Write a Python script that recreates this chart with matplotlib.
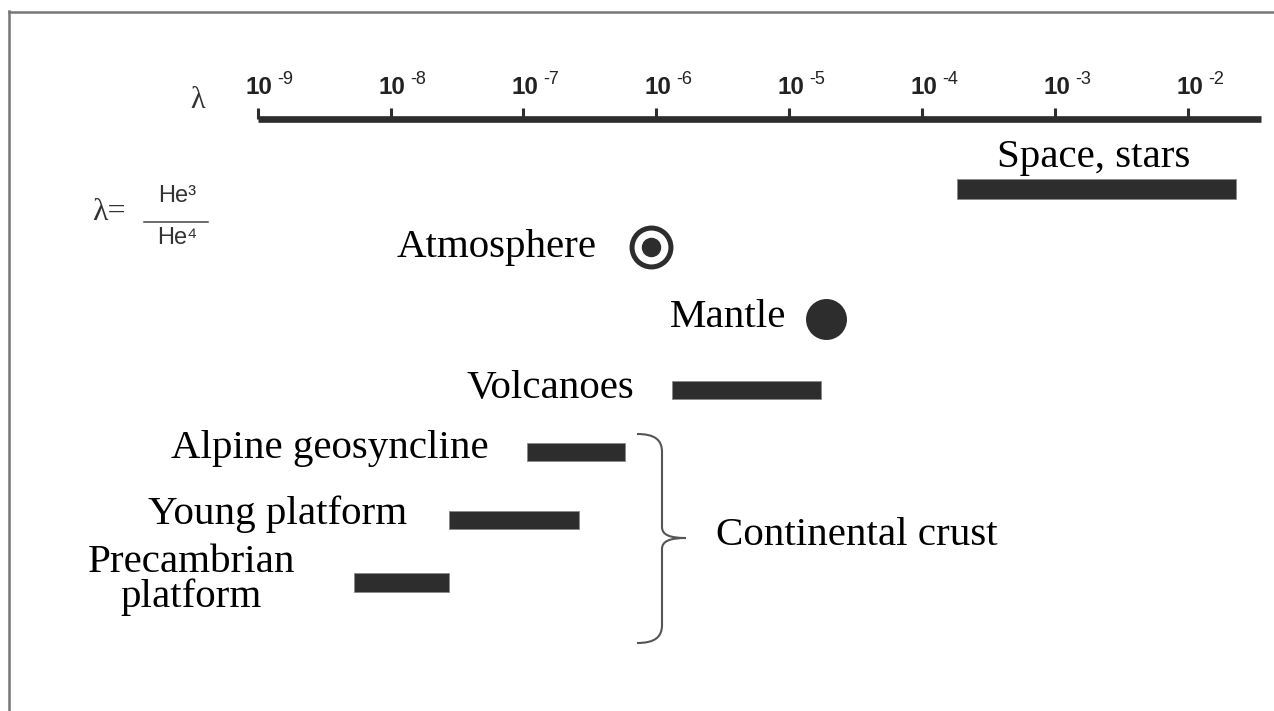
import numpy as np
import matplotlib.pyplot as plt
import matplotlib.transforms as mtransforms
from matplotlib.path import Path
from matplotlib.patches import PathPatch
from matplotlib.lines import Line2D
from matplotlib.ticker import NullLocator

# He3/He4 ratio ranges
bar_names = ['Space, stars', 'Volcanoes', 'Alpine geosyncline', 'Young platform', 'Precambrian\nplatform']
bar_lo = [1.83e-4, 1.32e-6, 1.07e-7, 2.75e-8, 5.3e-9]
bar_hi = [2.3e-2, 1.74e-5, 5.8e-7, 2.6e-7, 2.75e-8]
dot_names = ['Atmosphere', 'Mantle']
dot_vals = [9.1e-7, 1.9e-5]
tick_vals = [1e-9, 1e-8, 1e-7, 1e-6, 1e-5, 1e-4, 1e-3, 1e-2]
tick_exps = ['-9', '-8', '-7', '-6', '-5', '-4', '-3', '-2']
group_label = 'Continental crust'

# layout (pixels)
W, H = 1274, 711
x0, dec = 257.7, 132.9          # pixel of 1e-9, pixels per decade
left, top = 8.5, 11.5
axis_y = 118.5
bar_y = [189, 390, 452, 520.5, 582.5]
bar_h = [20, 18, 18, 18, 19]
dot_y = [247, 319]
dark = '#2d2d2d'
serif = 'Liberation Serif'
sans = ['Liberation Sans', 'DejaVu Sans']


def px2val(p):
    return 10 ** (-9 + (p - x0) / dec)


fig = plt.figure(figsize=(W / 100, H / 100), dpi=100)
fig.patch.set_facecolor('white')
pix = mtransforms.Affine2D().scale(1 / W, -1 / H).translate(0, 1) + fig.transFigure

# main drawing area, y in pixel units
ax = fig.add_axes([left / W, 0, 1 - left / W, 1 - top / H])
ax.set_xscale('log')
ax.set_xlim(px2val(left), px2val(W))
ax.set_ylim(H, top)
ax.tick_params(which='both', left=False, bottom=False, labelleft=False, labelbottom=False)
for s in ['right', 'bottom']:
    ax.spines[s].set_visible(False)
for s in ['left', 'top']:
    ax.spines[s].set_color('#777777')
    ax.spines[s].set_linewidth(1.8)

# bars
ax.barh(bar_y, np.array(bar_hi) - np.array(bar_lo), left=bar_lo, height=bar_h,
        color=dark, edgecolor='#8a8a8a', linewidth=0.6)

# dots
ax.plot([dot_vals[0]], [dot_y[0]], 'o', ms=28, mfc='white', mec=dark, mew=3.6)
ax.plot([dot_vals[0]], [dot_y[0]], 'o', ms=13, color=dark)
ax.plot([dot_vals[1]], [dot_y[1]], 'o', ms=29.5, color=dark, mew=0)

# labels
fs = 29.5
mid = np.sqrt(bar_lo[0] * bar_hi[0])
ax.annotate(bar_names[0], (mid, bar_y[0]), xytext=(-3, 22), textcoords='offset pixels',
            ha='center', va='baseline', fontsize=fs, family=serif)
bar_off = [None, (-38, -8), (-39, -6), (-42, -4), (-59, -24.5)]
for i in range(1, len(bar_names)):
    ax.annotate(bar_names[i], (bar_lo[i], bar_y[i]), xytext=bar_off[i], textcoords='offset pixels',
                ha='right', va='baseline', fontsize=fs, family=serif,
                multialignment='center', linespacing=0.92)
dot_off = [(-54, -10), (-40, -8)]
for i in range(len(dot_names)):
    ax.annotate(dot_names[i], (dot_vals[i], dot_y[i]), xytext=dot_off[i], textcoords='offset pixels',
                ha='right', va='baseline', fontsize=fs, family=serif)

# lambda scale
sax = fig.add_axes([left / W, 1 - axis_y / H, 1 - left / W, 1 / H])
sax.set_xscale('log')
sax.set_xlim(px2val(left), px2val(W))
sax.patch.set_visible(False)
for s in ['left', 'right', 'top']:
    sax.spines[s].set_visible(False)
sax.spines['bottom'].set_bounds(1e-9, px2val(1261))
sax.spines['bottom'].set_linewidth(4.8)
sax.spines['bottom'].set_color(dark)
sax.spines['bottom'].set_capstyle('butt')
sax.set_yticks([])
sax.tick_params(axis='x', which='major', direction='in', length=8, width=2.2, color=dark,
                bottom=True, top=False, labelbottom=False, labeltop=True, pad=13,
                labelsize=17.5, labelcolor='#222222')
sax.set_xticks(tick_vals)
sax.set_xticklabels(['10'] * len(tick_vals), fontweight='bold', family=sans, ha='left')
sax.xaxis.set_minor_locator(NullLocator())
shift = mtransforms.ScaledTranslation(-0.12, 0, fig.dpi_scale_trans)
for t in sax.xaxis.get_major_ticks(len(tick_vals)):
    t.label2.set_transform(t.label2.get_transform() + shift)
for v, e in zip(tick_vals, tick_exps):
    sax.annotate(e, (v, 0), xycoords=sax.get_xaxis_transform(), xytext=(20, 35),
                 textcoords='offset pixels', ha='left', va='baseline', fontsize=13,
                 family=sans, color='#222222')

fig.text(198, 100, 'λ', transform=pix, ha='center', va='center', fontsize=22,
         family=serif, color='#333333')

# formula
fig.text(92, 212, 'λ=', transform=pix, ha='left', va='center', fontsize=23,
         family=serif, color='#333333')
fig.text(177, 196, 'He³', transform=pix, ha='center', va='center', fontsize=17,
         family=sans, color='#333333')
fig.text(177, 238, 'He⁴', transform=pix, ha='center', va='center', fontsize=17,
         family=sans, color='#333333')
fig.add_artist(Line2D([144, 208], [222, 222], transform=pix, color='#444444', lw=1.1))

# brace for continental crust
verts = [(637, 434), (655, 434), (662, 440), (662, 452), (662, 527),
         (662, 535), (670, 538), (686, 538), (670, 538), (662, 541), (662, 549),
         (662, 625), (662, 637), (655, 643), (637, 643)]
codes = [Path.MOVETO, Path.CURVE4, Path.CURVE4, Path.CURVE4, Path.LINETO,
         Path.CURVE4, Path.CURVE4, Path.CURVE4, Path.CURVE4, Path.CURVE4, Path.CURVE4,
         Path.LINETO, Path.CURVE4, Path.CURVE4, Path.CURVE4]
fig.add_artist(PathPatch(Path(verts, codes), transform=pix, fill=False,
                         edgecolor='#555555', lw=1.5))
fig.text(716, 545, group_label, transform=pix, ha='left', va='baseline',
         fontsize=fs, family=serif)

fig.savefig('out.png', dpi=100)
